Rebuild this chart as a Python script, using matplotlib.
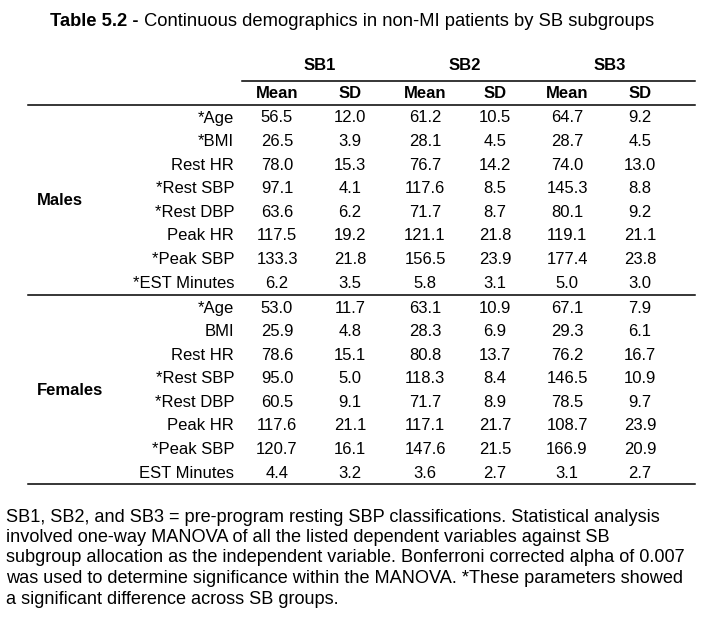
import matplotlib
matplotlib.use("Agg")
import matplotlib.pyplot as plt
from matplotlib.lines import Line2D

plt.rcParams['font.family'] = ['Liberation Sans', 'DejaVu Sans']

W, H = 706, 620

groups = ["SB1", "SB2", "SB3"]
stats = ["Mean", "SD"]
sexes = ["Males", "Females"]
male_labels = ["*Age", "*BMI", "Rest HR", "*Rest SBP", "*Rest DBP", "Peak HR", "*Peak SBP", "*EST Minutes"]
female_labels = ["*Age", "BMI", "Rest HR", "*Rest SBP", "*Rest DBP", "Peak HR", "*Peak SBP", "EST Minutes"]
male_values = [
    [56.5, 12.0, 61.2, 10.5, 64.7, 9.2],
    [26.5, 3.9, 28.1, 4.5, 28.7, 4.5],
    [78.0, 15.3, 76.7, 14.2, 74.0, 13.0],
    [97.1, 4.1, 117.6, 8.5, 145.3, 8.8],
    [63.6, 6.2, 71.7, 8.7, 80.1, 9.2],
    [117.5, 19.2, 121.1, 21.8, 119.1, 21.1],
    [133.3, 21.8, 156.5, 23.9, 177.4, 23.8],
    [6.2, 3.5, 5.8, 3.1, 5.0, 3.0],
]
female_values = [
    [53.0, 11.7, 63.1, 10.9, 67.1, 7.9],
    [25.9, 4.8, 28.3, 6.9, 29.3, 6.1],
    [78.6, 15.1, 80.8, 13.7, 76.2, 16.7],
    [95.0, 5.0, 118.3, 8.4, 146.5, 10.9],
    [60.5, 9.1, 71.7, 8.9, 78.5, 9.7],
    [117.6, 21.1, 117.1, 21.7, 108.7, 23.9],
    [120.7, 16.1, 147.6, 21.5, 166.9, 20.9],
    [4.4, 3.2, 3.6, 2.7, 3.1, 2.7],
]
title_bold = "Table 5.2 -"
title_rest = " Continuous demographics in non-MI patients by SB subgroups"
footnote_lines = [
    "SB1, SB2, and SB3 = pre-program resting SBP classifications. Statistical analysis",
    "involved one-way MANOVA of all the listed dependent variables against SB",
    "subgroup allocation as the independent variable. Bonferroni corrected alpha of 0.007",
    "was used to determine significance within the MANOVA. *These parameters showed",
    "a significant difference across SB groups.",
]

fig = plt.figure(figsize=(W / 100, H / 100), dpi=100)


def fx(x):
    return x / W


def fy(y):
    return 1 - y / H


def hline(x0, x1, y, lw=1.1):
    fig.add_artist(Line2D([fx(x0), fx(x1)], [fy(y), fy(y)], color='black', lw=lw))


# title: bold part then regular part, centred together
renderer = fig.canvas.get_renderer()
tb = fig.text(0, fy(22), title_bold, fontsize=13.2, fontweight='bold', va='center')
tr = fig.text(0, fy(22), title_rest, fontsize=13.2, va='center')
wb = tb.get_window_extent(renderer).width
wr = tr.get_window_extent(renderer).width
x_start = 352 - (wb + wr) / 2
tb.set_x(fx(x_start))
tr.set_x(fx(x_start + wb))

fs = 12

# column headers
group_x = [320, 465, 610]
col_x = [277, 350, 425, 495, 567, 640]
for g, x in zip(groups, group_x):
    fig.text(fx(x), fy(66), g, fontsize=fs, fontweight='bold', ha='center', va='center')
for i, x in enumerate(col_x):
    fig.text(fx(x), fy(93), stats[i % 2], fontsize=fs, fontweight='bold', ha='center', va='center')

hline(242, 695, 80.5)
hline(28, 695, 104.5)

row_h = 23.6
label_x = 234
blocks = [(male_labels, male_values, 118), (female_labels, female_values, 308)]
for (labels, values, y0), sex in zip(blocks, sexes):
    for r, (lab, vals) in enumerate(zip(labels, values)):
        y = y0 + r * row_h
        fig.text(fx(label_x), fy(y), lab, fontsize=fs, ha='right', va='center')
        for x, v in zip(col_x, vals):
            fig.text(fx(x), fy(y), f"{v:.1f}", fontsize=fs, ha='center', va='center')
    ymid = y0 + (len(labels) - 1) * row_h / 2
    fig.text(fx(37), fy(ymid), sex, fontsize=fs, fontweight='bold', ha='left', va='center')

hline(28, 695, 294.5)
hline(28, 695, 483.5)

for i, line in enumerate(footnote_lines):
    fig.text(fx(6), fy(517 + i * 20.5), line, fontsize=13.1, ha='left', va='center')

fig.savefig("out.png", dpi=100)
